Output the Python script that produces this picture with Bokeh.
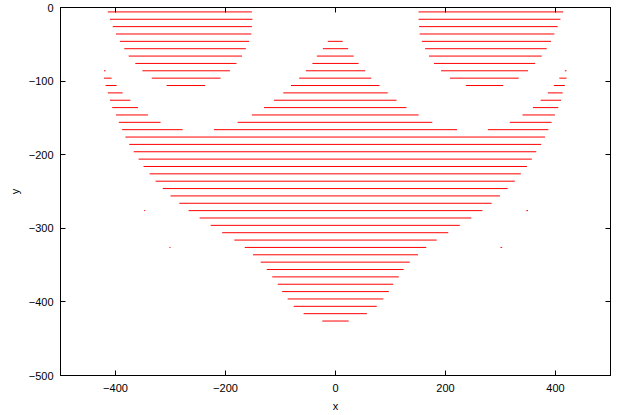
from bokeh.plotting import figure
from bokeh.models import LinearAxis, FixedTicker, Range1d, ColumnDataSource
from bokeh.embed import file_html
from bokeh.resources import INLINE

# Scanline segments: one entry per segment
seg_y = [
    -6, -6,
    -16, -16,
    -26, -26,
    -36, -36,
    -46, -46, -46,
    -56, -56, -56,
    -66, -66, -66,
    -76, -76, -76,
    -86, -86, -86, -86, -86,
    -96, -96, -96, -96, -96,
    -106, -106, -106, -106, -106,
    -116, -116, -116,
    -126, -126, -126,
    -136, -136, -136,
    -146, -146, -146,
    -156, -156, -156,
    -166, -166, -166,
    -176, -186, -196, -206, -216, -226, -236, -246, -256, -266,
    -276, -276, -276,
    -286, -296, -306, -316,
    -326, -326, -326,
    -336, -346, -356, -366, -376, -386, -396, -406, -416, -426,
]
seg_x_start = [
    -414, 151,
    -410, 151,
    -405, 152,
    -399, 153,
    -392, -14, 157,
    -384, -23, 163,
    -376, -34, 170,
    -364, -42, 179,
    -421, -351, -54, 192, 417,
    -421, -334, -66, 208, 407,
    -418, -307, -81, 237, 397,
    -414, -95, 386,
    -410, -112, 373,
    -406, -130, 359,
    -399, -152, 340,
    -394, -178, 317,
    -388, -221, 277,
    -382, -375, -367, -358, -349, -338, -327, -314, -300, -284,
    -348, -267, 347,
    -247, -227, -206, -184,
    -302, -165, 300,
    -150, -136, -125, -115, -105, -97, -87, -76, -58, -24,
]
seg_x_end = [
    -152, 414,
    -151, 409,
    -152, 404,
    -153, 398,
    -157, 13, 392,
    -163, 23, 384,
    -170, 33, 375,
    -180, 42, 363,
    -418, -192, 54, 350, 420,
    -407, -209, 65, 333, 420,
    -398, -237, 80, 305, 417,
    -387, 95, 413,
    -373, 111, 410,
    -359, 129, 405,
    -341, 151, 399,
    -318, 176, 393,
    -278, 221, 387,
    381, 374, 365, 357, 348, 337, 326, 313, 299, 284,
    -346, 267, 350,
    247, 226, 205, 184,
    -300, 165, 303,
    150, 135, 124, 115, 105, 97, 87, 75, 57, 24,
]

x_ticks = [-400, -200, 0, 200, 400]
y_ticks = [0, -100, -200, -300, -400, -500]

FONT = "Liberation Sans"

p = figure(width=617, height=415, output_backend="svg", toolbar_location=None,
           x_range=Range1d(-500, 500), y_range=Range1d(-500, 0),
           min_border_left=60, min_border_right=7, min_border_top=7, min_border_bottom=40)

p.xgrid.visible = False
p.ygrid.visible = False
p.outline_line_color = "black"
p.outline_line_width = 1
p.background_fill_color = "white"
p.border_fill_color = "white"

src = ColumnDataSource(dict(y=seg_y, x0=seg_x_start, x1=seg_x_end))
p.segment(x0="x0", y0="y", x1="x1", y1="y", source=src, line_color="#ff0000", line_width=1)

def style_axis(ax, ticks, show_labels):
    ax.ticker = FixedTicker(ticks=ticks)
    ax.axis_line_color = "black"
    ax.axis_line_width = 1
    ax.major_tick_in = 5
    ax.major_tick_out = 0
    ax.minor_tick_line_color = None
    ax.major_tick_line_color = "black"
    ax.major_label_text_font = FONT
    ax.major_label_text_font_size = "11px"
    ax.major_label_text_color = "black"
    ax.axis_label_text_font = FONT
    ax.axis_label_text_font_size = "11px"
    ax.axis_label_text_font_style = "normal"
    ax.axis_label_text_color = "black"
    if not show_labels:
        ax.major_label_overrides = {t: "" for t in ticks}
        ax.major_label_text_color = None
        ax.major_label_standoff = 0

xa = p.xaxis[0]
style_axis(xa, x_ticks, True)
xa.axis_label = "x"
xa.major_label_standoff = 8
xa.axis_label_standoff = 5

ya = p.yaxis[0]
style_axis(ya, y_ticks, True)
ya.axis_label = "y"
ya.major_label_standoff = 7
ya.axis_label_standoff = 5

top = LinearAxis()
style_axis(top, x_ticks, False)
p.add_layout(top, "above")

right = LinearAxis()
style_axis(right, y_ticks, False)
p.add_layout(right, "right")

open("out.html", "w").write(file_html(p, INLINE))
